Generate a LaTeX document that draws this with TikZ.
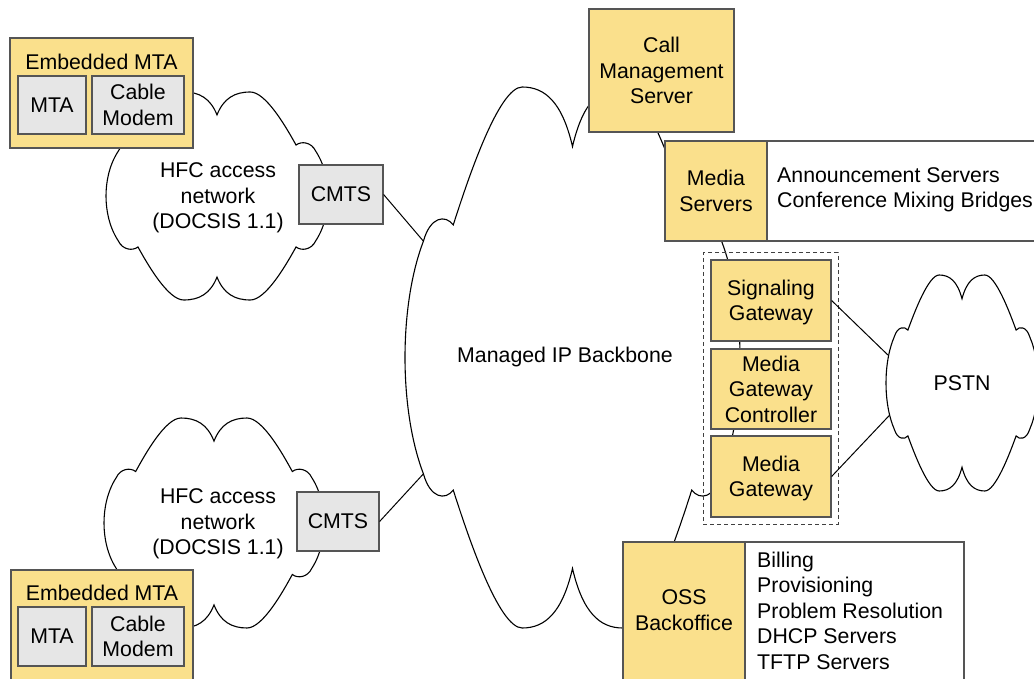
\documentclass[tikz,border=0pt]{standalone}
\usepackage{fontspec}
\setmainfont{Liberation Sans}
\definecolor{yfill}{HTML}{FAE08C}
\definecolor{gfill}{HTML}{E6E6E6}
\definecolor{edgec}{HTML}{555555}
\newcommand\mycloud[5]{%
  \begin{scope}[shift={(#2,#3)}, xscale=#4, yscale=#5]
    \draw[cloudline] (0.5,0.11) .. controls (0.47,0.03) and (0.42,0) .. (0.35,0)
      .. controls (0.28,0) and (0.189,0.168) .. (0.144,0.255)
      .. controls (0.12,0.235) and (0.075,0.24) .. (0.055,0.285)
      .. controls (0.015,0.35) and (0,0.43) .. (0,0.5)
      .. controls (0,0.57) and (0.015,0.65) .. (0.055,0.715)
      .. controls (0.075,0.76) and (0.12,0.765) .. (0.144,0.745)
      .. controls (0.189,0.832) and (0.28,1) .. (0.35,1)
      .. controls (0.42,1) and (0.47,0.97) .. (0.5,0.89)
      .. controls (0.53,0.97) and (0.58,1) .. (0.65,1)
      .. controls (0.72,1) and (0.811,0.832) .. (0.856,0.745)
      .. controls (0.88,0.765) and (0.925,0.76) .. (0.945,0.715)
      .. controls (0.985,0.65) and (1,0.57) .. (1,0.5)
      .. controls (1,0.43) and (0.985,0.35) .. (0.945,0.285)
      .. controls (0.925,0.24) and (0.88,0.235) .. (0.856,0.255)
      .. controls (0.811,0.168) and (0.72,0) .. (0.65,0)
      .. controls (0.58,0) and (0.53,0.03) .. (0.5,0.11) -- cycle;
    \coordinate (#1-nw) at (0.055,0.285);
    \coordinate (#1-sw) at (0.055,0.715);
    \coordinate (#1-wn) at (0.012,0.37);
    \coordinate (#1-ws) at (0.022,0.65);
  \end{scope}}
\tikzset{
  every node/.style={font=\fontsize{21.3}{25.5}\selectfont, text=black},
  ybox/.style={draw=edgec, line width=1.2pt, fill=yfill, inner sep=0pt, align=center},
  gbox/.style={draw=edgec, line width=1.2pt, fill=gfill, inner sep=0pt, align=center},
  wbox/.style={draw=edgec, line width=1.2pt, fill=white, inner sep=0pt},
  lbl/.style={inner sep=0pt, align=center},
  lst/.style={inner sep=0pt, align=left, anchor=west},
  cloudline/.style={draw=black, line width=1.1pt, fill=white},
  link/.style={draw=black, line width=1pt},
  grp/.style={draw=black!75, line width=1pt, dash pattern=on 4pt off 3pt, inner sep=0pt},
}
\begin{document}
\begin{tikzpicture}[x=1pt, y=-1pt]
\useasboundingbox (0,0) rectangle (1034,679);
\clip (0,0) rectangle (1034,679);
\fill[white] (0,0) rectangle (1034,679);

% clouds
\mycloud{hfca}{106}{92}{222}{208}
\mycloud{hfcb}{104}{418}{220}{210}
\mycloud{big}{405}{87}{335}{541}
\mycloud{pstn}{886}{275}{152}{216}

\node[lbl] (hfcat) at (218,198) {HFC access\\network\\(DOCSIS 1.1)};
\node[lbl] (hfcbt) at (218,524) {HFC access\\network\\(DOCSIS 1.1)};
\node[lbl] (bigt) at (565,357) {Managed IP Backbone};
\node[lbl] (pstnt) at (962,383) {PSTN};

% embedded MTA (top)
\node[ybox, minimum width=183, minimum height=110] (emtaa) at (101.5,93) {};
\node[lbl] (emtaat) at (101.5,62) {Embedded MTA};
\node[gbox, minimum width=68, minimum height=58] (mtaa) at (52,105) {MTA};
\node[gbox, minimum width=92, minimum height=58] (cma) at (138,105) {Cable\\Modem};

% embedded MTA (bottom)
\node[ybox, minimum width=182, minimum height=124] (emtab) at (102,632) {};
\node[lbl] (emtabt) at (102,593) {Embedded MTA};
\node[gbox, minimum width=68, minimum height=59] (mtab) at (52,636.5) {MTA};
\node[gbox, minimum width=92, minimum height=59] (cmb) at (138,636.5) {Cable\\Modem};

% CMTS
\node[gbox, minimum width=84, minimum height=59] (cmtsa) at (341,194.5) {CMTS};
\node[gbox, minimum width=82, minimum height=59] (cmtsb) at (338,521.5) {CMTS};

% right side servers
\node[ybox, minimum width=145, minimum height=123] (cms) at (661.5,70.5) {Call\\Management\\Server};
\node[wbox, minimum width=278, minimum height=100] (mslist) at (906,191) {};
\node[ybox, minimum width=102, minimum height=100] (ms) at (716,191) {Media\\Servers};
\node[lst] (mslistt) at (777,190) {Announcement Servers\\Conference Mixing Bridges};

\node[grp, minimum width=135, minimum height=271] (grpbox) at (770.5,388.5) {};
\node[ybox, minimum width=120, minimum height=81] (sg) at (771,300.5) {};
\node[lbl] (sgt) at (771,302.5) {Signaling\\Gateway};
\node[ybox, minimum width=120, minimum height=80] (mgc) at (771,389) {Media\\Gateway\\Controller};
\node[ybox, minimum width=120, minimum height=81] (mg) at (771,476.5) {};
\node[lbl] (mgt) at (771,478.5) {Media\\Gateway};

\node[wbox, minimum width=219, minimum height=150] (osslist) at (854.5,617) {};
\node[ybox, minimum width=122, minimum height=150] (oss) at (684,617) {};
\node[lbl] (osst) at (684,610) {OSS\\Backoffice};
\node[lst] (osslistt) at (757,610.5) {Billing\\Provisioning\\Problem Resolution\\DHCP Servers\\TFTP Servers};

% connectors
\draw[link] (cmtsa.east) -- (big-nw);
\draw[link] (cmtsb.east) -- (big-sw);
\draw[link] (sg.east) -- (pstn-wn);
\draw[link] (mg.east) -- (pstn-ws);
\end{tikzpicture}
\end{document}
